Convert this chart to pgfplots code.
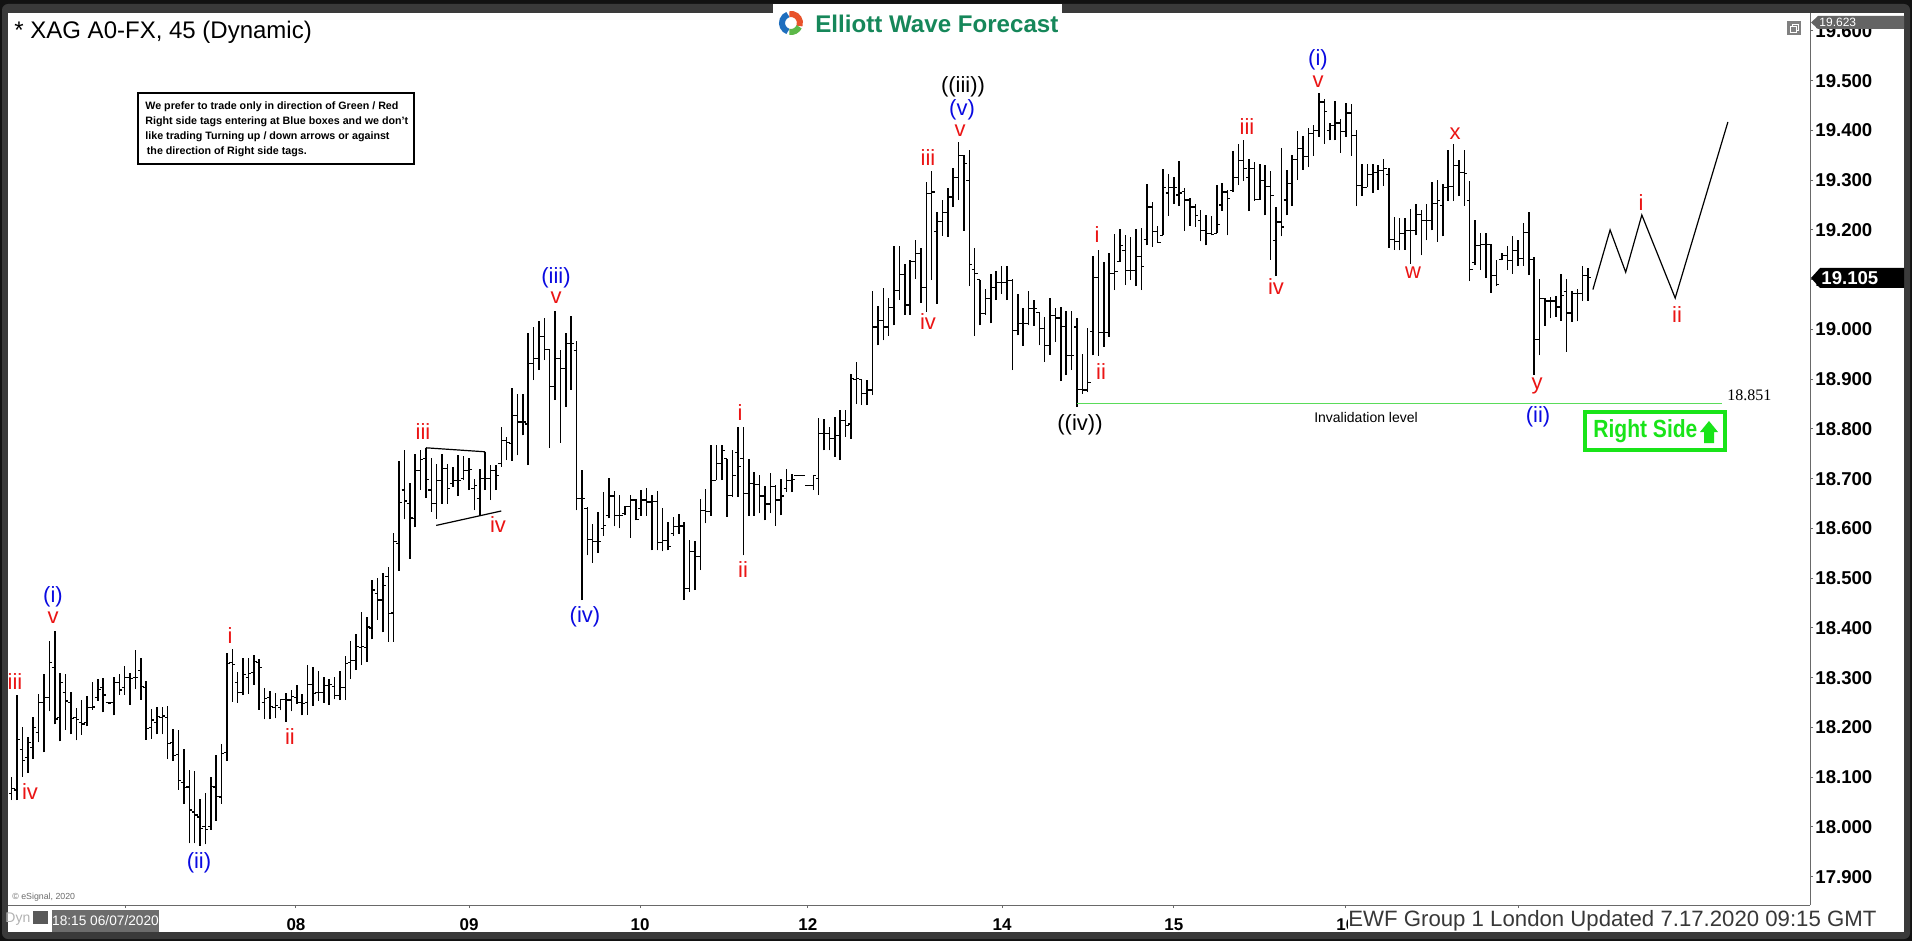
\documentclass[border=0pt]{standalone}
\usepackage{pgfplots}
\pgfplotsset{compat=1.18}
\usepackage{pgfplotstable}
\usepackage{fontspec}
\setmainfont{Liberation Sans}
\newfontfamily\serifface{Liberation Serif}
\definecolor{ewred}{RGB}{235,20,20}
\definecolor{ewblue}{RGB}{10,10,225}
\definecolor{ewgreen}{RGB}{25,228,25}
\definecolor{invgreen}{RGB}{90,220,90}
\definecolor{logogreen}{RGB}{22,135,90}
\definecolor{framedark}{RGB}{18,18,18}
\definecolor{framegray}{RGB}{58,58,58}
\definecolor{axisgray}{RGB}{105,105,105}
\definecolor{taggray}{RGB}{100,100,100}
\definecolor{boxgray}{RGB}{108,108,108}
\definecolor{icoblue}{RGB}{30,110,190}
\definecolor{icoorange}{RGB}{232,82,42}
\definecolor{icogreen}{RGB}{92,184,72}

\pgfdeclareplotmark{otick}{\pgfpathmoveto{\pgfqpoint{-1.45pt}{0pt}}\pgfpathlineto{\pgfqpoint{0pt}{0pt}}\pgfusepathqstroke}
\pgfdeclareplotmark{ctick}{\pgfpathmoveto{\pgfqpoint{0pt}{0pt}}\pgfpathlineto{\pgfqpoint{1.45pt}{0pt}}\pgfusepathqstroke}

\pgfplotstableread{
k H L O C
0 18.101 18.054 18.067 18.077
1 18.265 18.054 18.074 18.176
2 18.201 18.101 18.155 18.134
3 18.180 18.109 18.140 18.170
4 18.220 18.136 18.160 18.200
5 18.268 18.170 18.190 18.250
6 18.307 18.150 18.250 18.260
7 18.373 18.232 18.260 18.330
8 18.394 18.206 18.320 18.217
9 18.309 18.172 18.220 18.290
10 18.307 18.195 18.270 18.253
11 18.272 18.186 18.250 18.218
12 18.238 18.174 18.220 18.216
13 18.255 18.185 18.210 18.207
14 18.264 18.202 18.210 18.240
15 18.291 18.235 18.240 18.241
16 18.298 18.254 18.260 18.276
17 18.299 18.230 18.280 18.265
18 18.252 18.247 18.250 18.249
19 18.302 18.224 18.250 18.290
20 18.308 18.266 18.290 18.275
21 18.324 18.266 18.280 18.300
22 18.309 18.246 18.300 18.298
23 18.356 18.277 18.300 18.300
24 18.339 18.256 18.315 18.282
25 18.293 18.175 18.280 18.198
26 18.236 18.177 18.200 18.215
27 18.242 18.186 18.210 18.222
28 18.242 18.186 18.220 18.223
29 18.244 18.136 18.220 18.168
30 18.196 18.132 18.170 18.144
31 18.195 18.075 18.145 18.094
32 18.157 18.046 18.090 18.079
33 18.114 17.967 18.080 18.034
34 18.112 17.967 18.030 18.024
35 18.056 17.962 18.020 17.997
36 18.069 17.965 18.000 17.994
37 18.101 17.994 18.000 18.081
38 18.144 18.012 18.080 18.061
39 18.166 18.047 18.060 18.148
40 18.350 18.132 18.150 18.329
41 18.357 18.252 18.330 18.327
42 18.311 18.250 18.290 18.270
43 18.339 18.265 18.270 18.307
44 18.339 18.268 18.300 18.308
45 18.345 18.286 18.310 18.333
46 18.337 18.235 18.330 18.320
47 18.279 18.216 18.250 18.258
48 18.273 18.216 18.260 18.242
49 18.270 18.218 18.240 18.244
50 18.257 18.234 18.240 18.256
51 18.270 18.211 18.256 18.255
52 18.276 18.232 18.255 18.262
53 18.286 18.248 18.260 18.250
54 18.268 18.224 18.250 18.248
55 18.325 18.225 18.250 18.287
56 18.321 18.244 18.287 18.268
57 18.313 18.254 18.270 18.270
58 18.302 18.250 18.270 18.285
59 18.298 18.246 18.285 18.287
60 18.302 18.257 18.282 18.264
61 18.314 18.255 18.264 18.280
62 18.343 18.255 18.280 18.329
63 18.374 18.297 18.330 18.335
64 18.388 18.315 18.335 18.362
65 18.431 18.325 18.360 18.362
66 18.421 18.331 18.360 18.402
67 18.496 18.377 18.400 18.476
68 18.501 18.416 18.469 18.456
69 18.510 18.391 18.456 18.486
70 18.523 18.372 18.503 18.429
71 18.590 18.372 18.430 18.574
72 18.735 18.515 18.570 18.652
73 18.757 18.618 18.677 18.655
74 18.692 18.539 18.650 18.621
75 18.749 18.602 18.620 18.717
76 18.758 18.677 18.717 18.738
77 18.762 18.661 18.740 18.698
78 18.742 18.633 18.677 18.650
79 18.730 18.619 18.650 18.697
80 18.749 18.650 18.697 18.720
81 18.730 18.650 18.720 18.680
82 18.724 18.683 18.690 18.697
83 18.747 18.665 18.697 18.697
84 18.745 18.697 18.700 18.717
85 18.742 18.677 18.717 18.718
86 18.700 18.636 18.680 18.687
87 18.720 18.625 18.660 18.700
88 18.754 18.677 18.700 18.700
89 18.727 18.657 18.700 18.717
90 18.727 18.677 18.717 18.706
91 18.804 18.724 18.730 18.777
92 18.784 18.737 18.777 18.772
93 18.882 18.736 18.770 18.827
94 18.871 18.747 18.827 18.814
95 18.871 18.787 18.814 18.814
96 18.992 18.727 18.810 18.931
97 19.004 18.898 18.931 18.941
98 19.016 18.918 18.941 18.986
99 19.022 18.938 18.986 18.959
100 18.961 18.762 18.959 18.886
101 19.036 18.858 18.886 18.941
102 18.958 18.772 18.941 18.922
103 18.993 18.844 18.922 18.971
104 19.026 18.879 18.971 18.971
105 18.977 18.636 18.958 18.660
106 18.717 18.456 18.660 18.660
107 18.643 18.546 18.640 18.577
108 18.608 18.531 18.577 18.574
109 18.633 18.551 18.574 18.573
110 18.673 18.585 18.600 18.606
111 18.702 18.620 18.626 18.665
112 18.675 18.604 18.665 18.626
113 18.667 18.600 18.626 18.626
114 18.646 18.626 18.630 18.644
115 18.667 18.581 18.644 18.657
116 18.660 18.616 18.657 18.618
117 18.678 18.625 18.640 18.657
118 18.681 18.625 18.657 18.653
119 18.667 18.556 18.653 18.654
120 18.675 18.556 18.654 18.571
121 18.642 18.554 18.571 18.576
122 18.613 18.556 18.576 18.564
123 18.623 18.585 18.590 18.604
124 18.628 18.589 18.604 18.605
125 18.613 18.456 18.605 18.479
126 18.576 18.472 18.479 18.553
127 18.574 18.476 18.553 18.544
128 18.660 18.516 18.544 18.636
129 18.679 18.610 18.636 18.634
130 18.767 18.625 18.634 18.697
131 18.767 18.697 18.697 18.730
132 18.767 18.697 18.730 18.757
133 18.740 18.623 18.740 18.666
134 18.757 18.663 18.666 18.707
135 18.803 18.663 18.752 18.724
136 18.803 18.546 18.740 18.670
137 18.740 18.625 18.670 18.690
138 18.713 18.625 18.690 18.688
139 18.707 18.630 18.688 18.665
140 18.685 18.616 18.665 18.649
141 18.711 18.630 18.649 18.685
142 18.687 18.605 18.685 18.657
143 18.700 18.626 18.657 18.665
144 18.719 18.673 18.680 18.697
145 18.709 18.673 18.697 18.698
146 18.707 18.705 18.706 18.706
147 18.707 18.705 18.706 18.706
148 18.687 18.685 18.686 18.686
149 18.707 18.677 18.686 18.706
150 18.821 18.667 18.700 18.791
151 18.819 18.757 18.791 18.791
152 18.804 18.757 18.791 18.780
153 18.824 18.744 18.780 18.787
154 18.837 18.737 18.787 18.817
155 18.838 18.784 18.817 18.807
156 18.911 18.780 18.810 18.901
157 18.935 18.850 18.900 18.901
158 18.901 18.848 18.900 18.871
159 18.898 18.848 18.871 18.878
160 19.077 18.868 18.878 19.005
161 19.047 18.968 19.005 19.018
162 19.084 18.978 19.018 19.005
163 19.064 18.987 19.005 19.044
164 19.168 19.008 19.044 19.079
165 19.168 19.059 19.079 19.111
166 19.131 19.029 19.111 19.049
167 19.139 19.029 19.049 19.136
168 19.179 19.102 19.136 19.152
169 19.164 19.054 19.152 19.085
170 19.296 19.035 19.085 19.273
171 19.318 19.099 19.273 19.276
172 19.235 19.052 19.196 19.217
173 19.261 19.188 19.217 19.235
174 19.284 19.186 19.235 19.266
175 19.325 19.246 19.266 19.305
176 19.377 19.260 19.305 19.350
177 19.350 19.198 19.350 19.333
178 19.361 19.087 19.300 19.130
179 19.163 18.987 19.120 19.112
180 19.100 19.008 19.100 19.032
181 19.081 19.029 19.032 19.062
182 19.112 19.012 19.062 19.085
183 19.118 19.059 19.085 19.095
184 19.127 19.072 19.095 19.095
185 19.127 19.059 19.095 19.099
186 19.102 18.918 19.099 18.998
187 19.072 18.988 18.998 19.012
188 19.043 18.967 19.012 19.012
189 19.077 19.008 19.012 19.042
190 19.060 19.007 19.042 19.042
191 19.034 18.968 19.034 19.002
192 19.025 18.935 19.002 18.967
193 19.064 18.949 18.967 19.028
194 19.044 18.975 19.028 19.023
195 19.045 18.896 19.023 19.006
196 19.037 18.908 19.006 18.948
197 19.037 18.918 18.948 18.947
198 19.022 18.844 19.005 18.880
199 18.951 18.871 18.880 18.878
200 19.002 18.874 18.878 18.894
201 19.147 18.948 18.995 19.105
202 19.160 18.947 19.105 18.994
203 19.136 18.965 18.994 18.994
204 19.154 18.985 18.994 19.112
205 19.191 19.079 19.112 19.116
206 19.201 19.136 19.136 19.169
207 19.189 19.089 19.158 19.118
208 19.185 19.099 19.118 19.118
209 19.202 19.087 19.118 19.146
210 19.203 19.079 19.146 19.127
211 19.293 19.169 19.180 19.246
212 19.256 19.166 19.246 19.196
213 19.207 19.174 19.196 19.174
214 19.323 19.189 19.189 19.286
215 19.313 19.228 19.274 19.286
216 19.306 19.252 19.286 19.286
217 19.338 19.248 19.270 19.274
218 19.285 19.198 19.278 19.260
219 19.264 19.208 19.260 19.246
220 19.252 19.206 19.246 19.229
221 19.240 19.177 19.219 19.199
222 19.229 19.169 19.199 19.193
223 19.227 19.189 19.193 19.191
224 19.290 19.193 19.193 19.211
225 19.294 19.239 19.250 19.276
226 19.280 19.189 19.276 19.263
227 19.358 19.276 19.280 19.306
228 19.373 19.290 19.306 19.340
229 19.380 19.298 19.340 19.323
230 19.342 19.238 19.306 19.323
231 19.336 19.259 19.323 19.261
232 19.332 19.261 19.261 19.300
233 19.331 19.229 19.300 19.288
234 19.318 19.140 19.288 19.269
235 19.246 19.107 19.179 19.216
236 19.365 19.187 19.216 19.206
237 19.320 19.229 19.260 19.293
238 19.351 19.248 19.293 19.341
239 19.398 19.300 19.341 19.363
240 19.389 19.321 19.363 19.347
241 19.405 19.326 19.347 19.393
242 19.411 19.349 19.393 19.400
243 19.476 19.387 19.400 19.457
244 19.464 19.373 19.457 19.438
245 19.414 19.380 19.400 19.410
246 19.460 19.380 19.410 19.415
247 19.422 19.355 19.415 19.397
248 19.455 19.387 19.397 19.435
249 19.454 19.349 19.435 19.389
250 19.400 19.248 19.389 19.290
251 19.333 19.268 19.290 19.286
252 19.332 19.286 19.286 19.311
253 19.332 19.275 19.311 19.316
254 19.330 19.281 19.316 19.320
255 19.342 19.288 19.320 19.323
256 19.325 19.164 19.311 19.180
257 19.226 19.160 19.180 19.176
258 19.223 19.159 19.176 19.192
259 19.223 19.160 19.192 19.199
260 19.243 19.132 19.199 19.199
261 19.253 19.189 19.199 19.231
262 19.241 19.149 19.231 19.219
263 19.253 19.179 19.219 19.219
264 19.296 19.199 19.219 19.253
265 19.300 19.176 19.253 19.259
266 19.293 19.187 19.249 19.286
267 19.360 19.258 19.286 19.288
268 19.373 19.258 19.288 19.330
269 19.340 19.268 19.330 19.316
270 19.360 19.249 19.316 19.314
271 19.298 19.097 19.259 19.120
272 19.219 19.129 19.135 19.168
273 19.194 19.119 19.168 19.170
274 19.194 19.104 19.170 19.171
275 19.172 19.074 19.171 19.109
276 19.139 19.087 19.109 19.091
277 19.154 19.139 19.140 19.149
278 19.167 19.119 19.149 19.139
279 19.187 19.112 19.139 19.158
280 19.179 19.127 19.158 19.142
281 19.213 19.127 19.142 19.194
282 19.236 19.109 19.194 19.141
283 19.146 18.908 19.140 18.980
284 19.101 18.948 18.980 19.062
285 19.063 19.007 19.062 19.057
286 19.066 19.022 19.057 19.057
287 19.068 19.025 19.057 19.045
288 19.112 19.017 19.045 19.068
289 19.101 18.955 19.076 19.033
290 19.077 19.015 19.033 19.072
291 19.082 19.016 19.072 19.072
292 19.127 19.057 19.072 19.109
293 19.123 19.058 19.109 19.105
}\bars

\begin{document}
\begin{tikzpicture}
% ---------- frame and background (pixel units, y downwards)
\begin{scope}[x=0.5pt,y=-0.5pt]
\fill[framedark] (0,0) rectangle (1912,941);
\fill[framegray, rounded corners=3pt] (2,4) rectangle (1910,939);
\fill[white] (8,13) rectangle (1904,932);
\fill[white] (773,4) rectangle (1062,14);
\end{scope}

\begin{axis}[
  at={(4pt,-452.5pt)}, anchor=south west,
  scale only axis, width=901pt, height=446pt,
  xmin=-0.69, xmax=334.26, ymin=17.843, ymax=19.636,
  clip=false,
  axis x line*=bottom, axis y line*=right,
  axis line style={axisgray, line width=0.5pt},
  tick align=outside, major tick length=1.5pt,
  tick style={axisgray, line width=0.5pt},
  xtick={21.06,52.84,85.0,116.8,148.0,184.1,216.0,248.0,280.0},
  xticklabels={,08,09,10,12,14,15,16,},
  ytick={17.9,18.0,18.1,18.2,18.3,18.4,18.5,18.6,18.7,18.8,18.9,19.0,19.1,19.2,19.3,19.4,19.5,19.6},
  /pgf/number format/fixed,
  /pgf/number format/fixed zerofill,
  /pgf/number format/precision=3,
  /pgf/number format/1000 sep={},
  /pgf/number format/assume math mode=true,
  xticklabel style={font=\bfseries\fontsize{8.5}{9}\selectfont, anchor=base, inner sep=0pt, yshift=-11pt},
  yticklabel style={font=\bfseries\fontsize{9.3}{10}\selectfont, anchor=west, inner sep=0pt, xshift=1pt},
]
% vertical high-low lines
\addplot[draw=none, mark=none,
  error bars/.cd, y dir=plus, y explicit, error mark=none,
  error bar style={draw=black, solid, line width=0.75pt}]
  table[x=k, y=L, y error expr=\thisrow{H}-\thisrow{L}] {\bars};
% open ticks
\addplot[only marks, mark=otick, mark options={black, solid, line width=0.6pt}]
  table[x=k, y=O] {\bars};
% close ticks
\addplot[only marks, mark=ctick, mark options={black, solid, line width=0.6pt}]
  table[x=k, y=C] {\bars};
% invalidation level
\addplot[invgreen, line width=0.8pt] coordinates {(198,18.851) (317.9,18.851)};
% projected path
\addplot[black, line width=0.6pt] coordinates {(293.9,19.08) (297.1,19.200) (300.0,19.115) (303.0,19.230) (309.2,19.063) (319.0,19.417)};
% triangle lines
\addplot[black, line width=0.6pt] coordinates {(77,18.762) (88,18.754)};
\addplot[black, line width=0.6pt] coordinates {(78.9,18.606) (91,18.635)};
\end{axis}

% ---------- annotations (pixel units)
\begin{scope}[x=0.5pt,y=-0.5pt, every node/.style={inner sep=0pt}]
% title
\node[anchor=base west, font=\fontsize{12}{14}\selectfont] at (14,39) {* XAG A0-FX, 45 (Dynamic)};
% logo
\draw[icoblue, line width=3pt] (791,23) ++(110:9) arc (110:250:9);
\draw[icoorange, line width=3pt] (791,23) ++(260:9) arc (260:380:9);
\draw[icogreen, line width=3pt] (791,23) ++(25:9) arc (25:100:9);
\node[anchor=base west, text=logogreen] at (815,33) {\resizebox{121.5pt}{!}{\bfseries Elliott Wave Forecast}};
% note box
\draw[line width=1pt] (138,93) rectangle (414,164);
\begin{scope}[every node/.style={anchor=base west, inner sep=0pt, font=\bfseries\fontsize{5.35}{7}\selectfont}]
\node at (145,110) {We prefer to trade only in direction of Green / Red};
\node at (145,125) {Right side tags entering at Blue boxes and we don't};
\node at (145,140) {like trading Turning up / down arrows or against};
\node at (146.5,155) {the direction of Right side tags.};
\end{scope}
% wave labels
\begin{scope}[every node/.style={inner sep=0pt, font=\fontsize{11}{12}\selectfont}]
\node[ewred] at (15,682) {iii};
\node[ewred] at (30,792) {iv};
\node[ewblue] at (53,597) {(i)};
\node[ewred] at (53,618) {v};
\node[ewblue] at (199,863) {(ii)};
\node[ewred] at (230,636) {i};
\node[ewred] at (290,737) {ii};
\node[ewred] at (423,432) {iii};
\node[ewred] at (498,525) {iv};
\node[ewblue] at (556,278) {(iii)};
\node[ewred] at (556,298) {v};
\node[ewblue] at (585,617) {(iv)};
\node[ewred] at (740,413) {i};
\node[ewred] at (743,570) {ii};
\node[ewred] at (928,158) {iii};
\node[ewred] at (928,322) {iv};
\node[black] at (963,87) {((iii))};
\node[ewblue] at (962,110) {(v)};
\node[ewred] at (960,131) {v};
\node[black] at (1080,425) {((iv))};
\node[ewred] at (1097,235) {i};
\node[ewred] at (1101,372) {ii};
\node[ewred] at (1247,127) {iii};
\node[ewred] at (1276,287) {iv};
\node[ewblue] at (1318,60) {(i)};
\node[ewred] at (1318,82) {v};
\node[ewred] at (1455,134) {x};
\node[ewred] at (1413,273) {w};
\node[ewred] at (1537,386) {y};
\node[ewblue] at (1538,417) {(ii)};
\node[ewred] at (1641,203) {i};
\node[ewred] at (1677,315) {ii};
\end{scope}
% invalidation texts
\node[font=\fontsize{7}{8}\selectfont] at (1366,417) {Invalidation level};
\node[anchor=west, font=\serifface\fontsize{8}{9}\selectfont] at (1727,395) {18.851};
% right side box
\draw[ewgreen, line width=2pt] (1585,412) rectangle (1725,450);
\node[anchor=west, text=ewgreen] at (1593,431) {\resizebox{52pt}{9pt}{\bfseries Right Side}};
\fill[ewgreen] (1700,432) -- (1709,421) -- (1718,432) -- (1714,432) -- (1714,443) -- (1704,443) -- (1704,432) -- cycle;
% price tags
\fill[taggray] (1811,22.5) -- (1818,16) -- (1904,16) -- (1904,29) -- (1818,29) -- cycle;
\node[anchor=west, text=white, font=\fontsize{6}{7}\selectfont] at (1819,22.5) {19.623};
\fill[black] (1811,278) -- (1820,268) -- (1904,268) -- (1904,288) -- (1820,288) -- cycle;
\node[anchor=west, text=white, font=\bfseries\fontsize{9.3}{10}\selectfont] at (1821,278) {19.105};
% small window icon
\fill[gray] (1787,21) rectangle (1801,35);
\draw[white, line width=0.4pt] (1790,26) rectangle (1796,32);
\draw[white, line width=0.4pt] (1792,26) -- (1792,24) -- (1798,24) -- (1798,30) -- (1796,30);
% bottom row
\node[anchor=west, text=gray!85!black, font=\fontsize{4.4}{5}\selectfont] at (12,897) {\textcopyright{} eSignal, 2020};
\node[anchor=west, text=gray!60, font=\fontsize{7}{8}\selectfont] at (5,919) {Dyn};
\fill[gray!70!black] (33,911) rectangle (48,924);
\fill[boxgray] (52,910) rectangle (159,932);
\node[text=white, font=\fontsize{6.85}{8}\selectfont] at (105.5,921) {18:15 06/07/2020};
\node[anchor=west, fill=white, inner sep=0pt, text=black!78] at (1348,921) {\resizebox{264pt}{!}{EWF Group 1 London Updated 7.17.2020 09:15 GMT}};
\end{scope}
\pgfresetboundingbox
\path[use as bounding box] (0pt,0pt) rectangle (956pt,-470.5pt);
\end{tikzpicture}
\end{document}
